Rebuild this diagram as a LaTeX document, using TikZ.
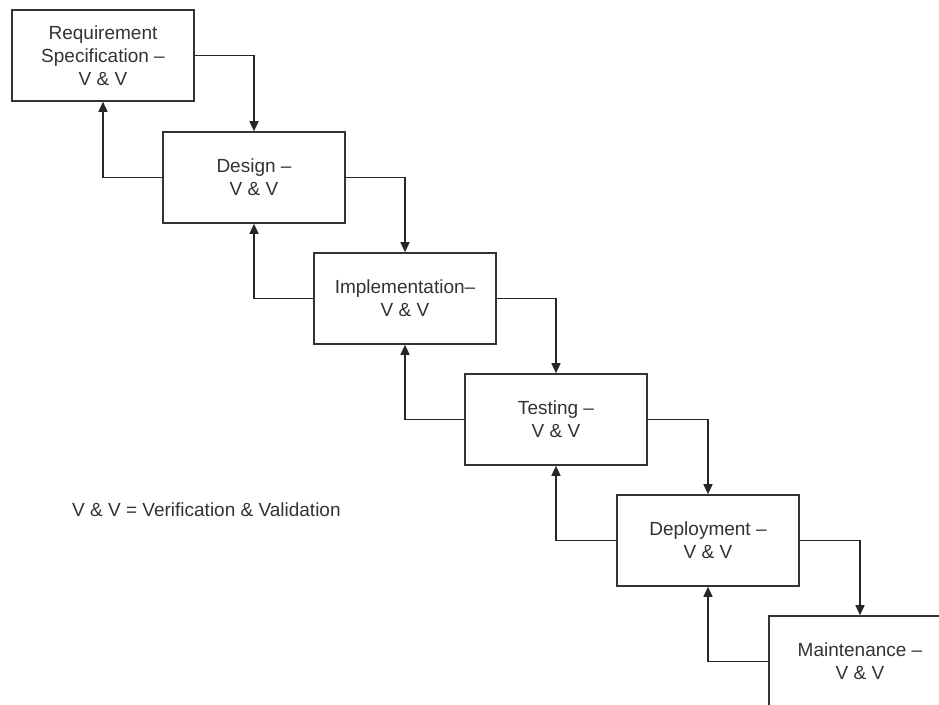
\documentclass[tikz,border=0pt]{standalone}
\usepackage{fontspec}
\setmainfont{Liberation Sans}
\usetikzlibrary{arrows.meta}
\begin{document}
\begin{tikzpicture}[x=1pt,y=-1pt,
  phase/.style={draw=black!80, line width=1.6pt, fill=white, rectangle,
    minimum width=182pt, minimum height=91pt, inner sep=0pt, align=center,
    text=black!80, font=\fontsize{19}{23}\selectfont},
  flow/.style={draw=black!85, line width=1.5pt,
    -{Triangle[length=10pt,width=9pt]}},
  note/.style={text=black!80, font=\fontsize{19}{23}\selectfont, inner sep=0pt}]
  \clip (0,0) rectangle (939,704);
  \fill[white] (0,0) rectangle (939,704);

  % the six phases, stepping down to the right
  \node[phase] (req)   at (103,55.5)  {Requirement\\Specification --\\V \& V};
  \node[phase] (des)   at (254,177.5) {Design --\\V \& V};
  \node[phase] (impl)  at (405,298.5) {Implementation--\\V \& V};
  \node[phase] (test)  at (556,419.5) {Testing --\\V \& V};
  \node[phase] (dep)   at (708,540.5) {Deployment --\\V \& V};
  \node[phase] (maint) at (860,661.5) {Maintenance --\\V \& V};

  % forward flow: right side down into the next phase
  \draw[flow] (req.east)  -| (des.north);
  \draw[flow] (des.east)  -| (impl.north);
  \draw[flow] (impl.east) -| (test.north);
  \draw[flow] (test.east) -| (dep.north);
  \draw[flow] (dep.east)  -| (maint.north);

  % feedback: left side back up to the previous phase
  \draw[flow] (des.west)   -| (req.south);
  \draw[flow] (impl.west)  -| (des.south);
  \draw[flow] (test.west)  -| (impl.south);
  \draw[flow] (dep.west)   -| (test.south);
  \draw[flow] (maint.west) -| (dep.south);

  % legend
  \node[note, anchor=west] (legend) at (72,510) {V \& V = Verification \& Validation};
\end{tikzpicture}
\end{document}
